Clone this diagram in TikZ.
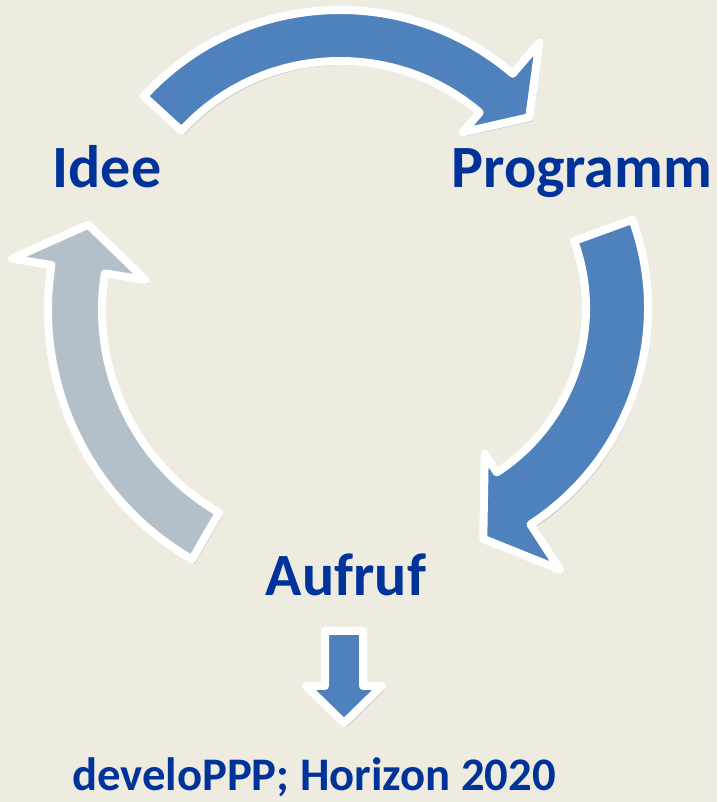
\documentclass[tikz,border=0pt]{standalone}
\usepackage{fontspec}
\setmainfont{Carlito}
\usetikzlibrary{shadows}
\definecolor{paper}{HTML}{EEECE1}
\definecolor{cycblue}{HTML}{4F81BD}
\definecolor{cycgray}{HTML}{B3BFC9}
\definecolor{labelblue}{HTML}{003399}

\begin{document}
\begin{tikzpicture}[x=1pt,y=1pt,
    blockarrow/.style={draw=white,line width=8pt,line join=round,
      drop shadow={shadow xshift=3pt,shadow yshift=-4pt,opacity=0.15,fill=black}},
    cyclelabel/.style={text=labelblue,font=\fontsize{60}{70}\selectfont\bfseries,
      anchor=base,inner sep=0pt}]
  \useasboundingbox (0,0) rectangle (717,802);
  \fill[paper] (0,0) rectangle (717,802);
  % Idee -> Programm
  \begin{scope}[shift={(340,526)}]
    \draw[blockarrow,fill=cycblue] (137.5:266) arc[start angle=137.5,end angle=49.5,radius=266]
      -- (49.5:307) -- (40:247) -- (49.5:189) -- (49.5:215)
      arc[start angle=49.5,end angle=137.5,radius=215] -- cycle;
  \end{scope}
  % Programm -> Aufruf
  \begin{scope}[shift={(390,494)}]
    \draw[blockarrow,fill=cycblue] (20:258) arc[start angle=20,end angle=-57,radius=258]
      -- (-57:312) -- (-68:249) -- (-57:174) -- (-57:196)
      arc[start angle=-57,end angle=20,radius=196] -- cycle;
  \end{scope}
  % Aufruf -> Idee
  \begin{scope}[shift={(336,492)}]
    \draw[blockarrow,fill=cycgray] (240:288) arc[start angle=240,end angle=171,radius=288]
      -- (171:328) -- (161:262) -- (171:193) -- (171:234)
      arc[start angle=171,end angle=240,radius=234] -- cycle;
  \end{scope}
  % labels
  \node[cyclelabel] (idee) at (107,614) {Idee};
  \node[cyclelabel] (programm) at (582,614) {Programm};
  \node[cyclelabel] (aufruf) at (346,206) {Aufruf};
  \node[cyclelabel,font=\fontsize{46.7}{56}\selectfont\bfseries] (ppp) at (314,11)
    {develoPPP; Horizon 2020};
  % Aufruf -> develoPPP
  \draw[blockarrow,fill=cycblue] (325,171) -- (363,171) -- (363,116) -- (382,116)
    -- (344,79) -- (306,116) -- (325,116) -- cycle;
\end{tikzpicture}
\end{document}
